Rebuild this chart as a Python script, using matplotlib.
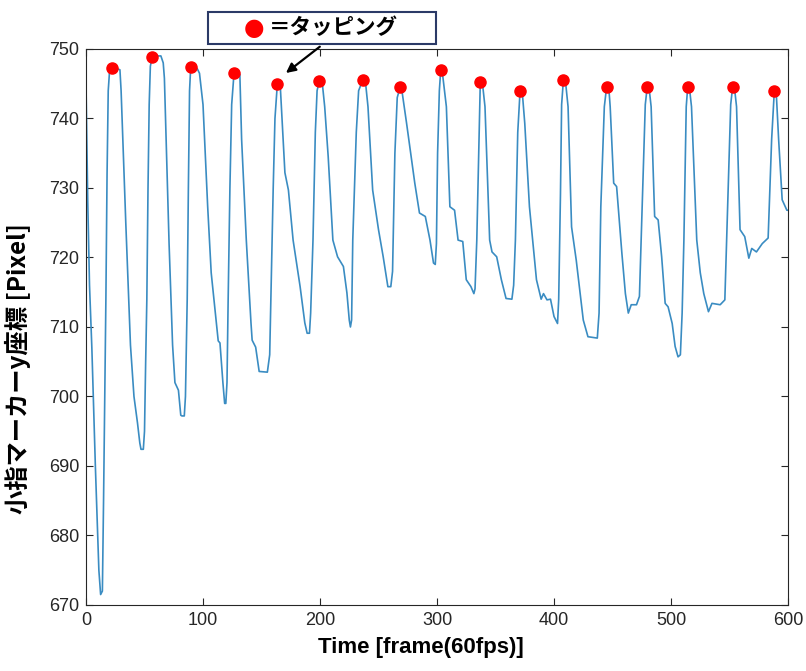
import matplotlib
matplotlib.use('Agg')
import matplotlib.pyplot as plt
from matplotlib.patches import Rectangle

# 小指マーカー y 座標 (読み取り値)
frames = [0, 1.5, 3, 5, 8, 11, 12.5, 14, 15, 16, 17, 18, 19, 20, 22, 25, 29,
          30, 34, 38, 41, 44, 46, 47, 49, 50, 51, 52, 53, 54, 55, 56.5, 60, 64, 66,
          67, 71, 74, 76, 79, 81, 82, 84, 85, 86.5, 87.5, 88.5, 89.5, 95, 97,
          100, 104, 107, 113, 114.5, 117, 118.5, 119.5, 120.5, 121.5, 123, 124.5, 126.5, 131.5,
          133, 137, 141, 142, 145, 148, 155, 157, 158, 160, 161.5, 163.5, 166,
          167, 170, 173, 177, 183, 187, 189, 191, 192, 194, 196, 197.5, 199.4, 202,
          204, 207, 211, 215, 220, 223, 225, 226, 227, 228, 231, 233, 236.5, 239,
          241, 245, 250, 254, 258, 260.5, 262, 264, 266, 268.4, 270,
          274, 281, 285, 290, 294, 297, 298.5, 299.5, 300.5, 302, 303.2, 305,
          308, 311, 315, 318, 322, 325, 329, 331.5, 332.5, 334, 336, 337, 339,
          341, 345, 347, 351, 355, 359, 364, 365.5, 367, 369, 371, 373,
          375, 379, 385, 389, 391, 394, 397, 400, 403, 404, 405.5, 406.5, 408, 410,
          412, 415, 419, 425, 429, 437, 438.5, 440, 443, 445, 447,
          448, 451, 453.5, 458, 461, 463.5, 466, 470.5, 473, 476, 478, 479.7, 481.5,
          483, 486, 489, 492, 495, 497.5, 501, 503.5, 506, 508, 509.5, 511, 513, 514.3, 516,
          517.5, 522, 525, 528, 532, 535, 542, 546, 549, 551, 552.7, 554.5,
          556, 559, 563, 566.5, 569, 573, 578, 583, 586, 588.3, 590,
          592, 595, 599, 600]
pos_y = [745, 728, 716, 707, 690, 675, 671.5, 672, 685, 700, 714, 732, 744, 746.5, 747.2, 747.3, 747,
         744, 725, 707.4, 700, 696.2, 693.3, 692.4, 692.4, 695, 705, 714, 730, 742, 747.5, 748.9, 749, 749, 748,
         745.8, 722, 707.4, 702, 700.9, 697.3, 697.2, 697.2, 700, 714, 730, 744, 747.4, 747.2, 746.5,
         742, 727.3, 717.8, 708, 707.7, 702, 699, 699, 702, 714, 730, 742, 746.5, 746.3,
         737, 722.5, 710.6, 708.1, 707.1, 703.6, 703.5, 706, 714, 730, 740, 744.9, 744.8,
         741.7, 732.2, 729.7, 722.5, 715.8, 710.6, 709.1, 709.1, 712, 722.5, 738, 744, 745.4, 745,
         741.7, 734.5, 722.5, 720.1, 718.7, 714.9, 711, 710, 711, 722.5, 738, 744, 745.5, 745,
         741.7, 729.7, 724, 720.1, 715.8, 715.8, 718, 735, 743, 744.5, 744,
         739.3, 730.7, 726.4, 725.9, 722.5, 719.2, 719, 722, 735, 744, 747, 746,
         741.7, 727.3, 726.8, 722.5, 722.3, 716.8, 715.8, 714.8, 715.5, 722.5, 738, 745.3, 744.8,
         741.7, 722.5, 720.8, 720.1, 716.8, 714.1, 714, 716, 722.5, 738, 744, 743.5,
         739.3, 727.3, 716.8, 714, 714.8, 713.9, 714, 711.5, 710.5, 714, 729, 742, 745.5, 745,
         741.7, 724.4, 719.6, 711, 708.6, 708.4, 712, 727.3, 741.7, 744.6, 744,
         741.7, 730.7, 730.2, 720.6, 714.8, 712, 713.2, 713.2, 714.4, 731, 742, 744.6, 744,
         741.7, 725.9, 725.4, 720.1, 713.4, 712.9, 710.5, 707.2, 705.7, 706, 712, 722.5, 741.7, 744.6, 744,
         741.7, 722.5, 717.8, 714.8, 712.2, 713.4, 713.2, 713.9, 731, 742, 744.6, 744,
         741.7, 724, 723, 719.9, 721.3, 720.8, 722, 722.8, 737, 744, 743.5,
         736.9, 728.3, 726.8, 726.8]

# タッピング時点
tap_frames = [22, 56.5, 89.5, 126.5, 163.5, 199.4, 236.5, 268.4, 303.2, 337, 371,
              408, 445, 479.7, 514.3, 552.7, 588.3]
tap_y = [747.2, 748.9, 747.4, 746.5, 744.9, 745.4, 745.5, 744.5, 747, 745.3, 744,
         745.5, 744.6, 744.6, 744.6, 744.6, 744]

plt.rcParams['font.family'] = ['Liberation Sans', 'DejaVu Sans']

fig = plt.figure(figsize=(8.06, 6.71), dpi=100)
ax = fig.add_axes([0.1067, 0.0984, 0.871, 0.8286])

ax.plot(frames, pos_y, color='#3a8cc2', linewidth=1.2, zorder=2)
ax.plot(tap_frames, tap_y, 'o', color='#ff0000', markersize=8, zorder=3)

ax.set_xlim(0, 600)
ax.set_ylim(670, 750)
ax.set_xticks(range(0, 601, 100))
ax.set_yticks(range(670, 751, 10))
ax.tick_params(direction='in', length=5, width=0.8, top=True, right=True,
               labelsize=13, colors='#262626', pad=5)
for s in ax.spines.values():
    s.set_color('#262626')
    s.set_linewidth(0.8)

ax.set_xlabel('Time [frame(60fps)]', fontsize=16, fontweight='bold')
ax.xaxis.set_label_coords(0.477, -0.058)
ax.set_ylabel('小指マーカーy座標 [Pixel]', fontsize=17.5, fontweight='bold',
              family=['Noto Sans CJK JP', 'DejaVu Sans'])
ax.yaxis.set_label_coords(-0.079, 0.425)

# 凡例ボックス
box = Rectangle((208 / 806, 1 - 43.5 / 671), 228 / 806, 32 / 671, transform=fig.transFigure,
                facecolor='white', edgecolor='#2b3a67', linewidth=1.5, zorder=5)
fig.add_artist(box)
fig.text(254 / 806, 1 - 27.5 / 671, '●', color='#ff0000', fontsize=17, ha='center', va='center',
         family=['DejaVu Sans'], zorder=6)
fig.text(269 / 806, 1 - 27.5 / 671, '＝タッピング', color='black', fontsize=15.5, fontweight='bold',
         ha='left', va='center', family=['Noto Sans CJK JP', 'DejaVu Sans'], zorder=6)

ax.annotate('', xy=(169, 746.3), xytext=(322 / 806, 1 - 45 / 671),
            textcoords='figure fraction',
            arrowprops=dict(arrowstyle='-|>', color='black', lw=1.6, mutation_scale=14),
            annotation_clip=False)

fig.savefig('out.png', dpi=100)
